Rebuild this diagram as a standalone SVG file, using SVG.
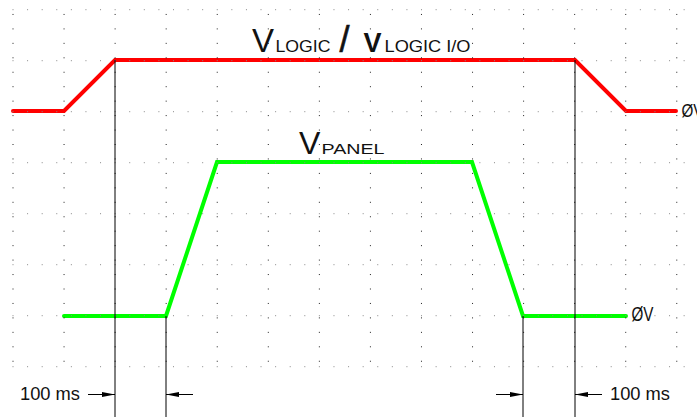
<svg xmlns="http://www.w3.org/2000/svg" width="697" height="417" viewBox="0 0 697 417">
<defs>
<style>
.bg{fill:#fff}
.col{stroke:#222;stroke-width:1;stroke-dasharray:1 13.45;fill:none}
.row{stroke:#888;stroke-width:1;stroke-dasharray:1 13.59;fill:none}
.red{stroke:#ff0000;stroke-width:4;fill:none;stroke-linejoin:miter;stroke-linecap:round}
.green{stroke:#00ff00;stroke-width:4;fill:none;stroke-linejoin:miter;stroke-linecap:round}
.vline{stroke:#000;stroke-width:1;fill:none}
.dim{stroke:#000;stroke-width:1;fill:none;marker-end:url(#ah)}
text{font-family:"Liberation Sans",Arial,sans-serif;fill:#111}
.lbl{font-size:18px}
</style>
<marker id="ah" markerUnits="userSpaceOnUse" markerWidth="14" markerHeight="6" refX="13" refY="3" orient="auto">
<path d="M0,0.5 L13,3 L0,5.5 Z" fill="#000"/>
</marker>
</defs>
<rect class="bg" x="0" y="0" width="697" height="417"/>
<g id="signal-logic">
<polyline class="red" points="13,111 64,111 115,60 575,60 626,111 676,111"/>
</g>
<g id="signal-panel">
<polyline class="green" points="64,316 166,316 217,162 472,162 523,316 626,316"/>
</g>
<g id="grid">
<g class="col">
<line x1="13" y1="13.95" x2="13" y2="368"/>
<line x1="64.06" y1="13.95" x2="64.06" y2="368"/>
<line x1="115.12" y1="13.95" x2="115.12" y2="368"/>
<line x1="166.18" y1="13.95" x2="166.18" y2="368"/>
<line x1="217.24" y1="13.95" x2="217.24" y2="368"/>
<line x1="268.3" y1="13.95" x2="268.3" y2="368"/>
<line x1="319.36" y1="13.95" x2="319.36" y2="368"/>
<line x1="370.42" y1="13.95" x2="370.42" y2="368"/>
<line x1="421.48" y1="13.95" x2="421.48" y2="368"/>
<line x1="472.54" y1="13.95" x2="472.54" y2="368"/>
<line x1="523.6" y1="13.95" x2="523.6" y2="368"/>
<line x1="574.66" y1="13.95" x2="574.66" y2="368"/>
<line x1="625.72" y1="13.95" x2="625.72" y2="368"/>
<line x1="676.78" y1="13.95" x2="676.78" y2="368"/>
</g>
<g class="row">
<line x1="12.5" y1="9.7" x2="690" y2="9.7"/>
<line x1="12.5" y1="60.7" x2="690" y2="60.7"/>
<line x1="12.5" y1="111.7" x2="690" y2="111.7"/>
<line x1="12.5" y1="162.7" x2="690" y2="162.7"/>
<line x1="12.5" y1="213.7" x2="690" y2="213.7"/>
<line x1="12.5" y1="264.7" x2="690" y2="264.7"/>
<line x1="12.5" y1="315.7" x2="690" y2="315.7"/>
<line x1="12.5" y1="366.7" x2="690" y2="366.7"/>
</g>
</g>
<g id="connectors">
<line class="vline" x1="115" y1="60" x2="115" y2="417"/>
<line class="vline" x1="166" y1="316" x2="166" y2="417"/>
<line class="vline" x1="523" y1="316" x2="523" y2="417"/>
<line class="vline" x1="575" y1="60" x2="575" y2="417"/>
<line class="dim" x1="88" y1="394.5" x2="115" y2="394.5"/>
<line class="dim" x1="193" y1="394.5" x2="166" y2="394.5"/>
<line class="dim" x1="496" y1="394.5" x2="523" y2="394.5"/>
<line class="dim" x1="602" y1="394.5" x2="575" y2="394.5"/>
</g>
<g id="title-logic">
<text y="52"><tspan x="252" font-size="33">V</tspan><tspan x="275.5" font-size="16" textLength="55" lengthAdjust="spacingAndGlyphs">LOGIC</tspan><tspan x="339.5" font-size="36" stroke="#111" stroke-width="0.6">/</tspan><tspan x="363.5" font-size="27" font-weight="bold">V</tspan><tspan x="384.5" font-size="16" textLength="86" lengthAdjust="spacingAndGlyphs">LOGIC I/O</tspan></text>
</g>
<g id="title-panel">
<text y="153.5"><tspan x="299" font-size="32">V</tspan><tspan x="321.5" font-size="15" textLength="63" lengthAdjust="spacingAndGlyphs">PANEL</tspan></text>
</g>
<g id="zero-labels">
<text x="681.5" y="117" font-size="19" textLength="22" lengthAdjust="spacingAndGlyphs">ØV</text>
<text x="631.5" y="321" font-size="20" textLength="22" lengthAdjust="spacingAndGlyphs">ØV</text>
</g>
<g id="time-labels">
<text class="lbl" x="20" y="399.5" textLength="60" lengthAdjust="spacingAndGlyphs">100 ms</text>
<text class="lbl" x="610" y="399.5" textLength="60" lengthAdjust="spacingAndGlyphs">100 ms</text>
</g>
</svg>
